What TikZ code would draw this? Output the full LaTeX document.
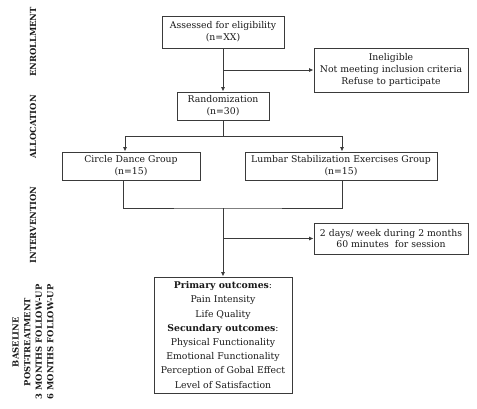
\documentclass[tikz,border=0pt]{standalone}
\usepackage{fontspec}
\setmainfont{DejaVu Serif}
\usetikzlibrary{arrows.meta,calc}
\definecolor{ln}{HTML}{3A3A3A}
\begin{document}
\begin{tikzpicture}[x=1pt,y=-1pt,
  box/.style={draw=ln,line width=0.9pt,inner sep=0pt,align=center,font=\fontsize{9.3}{11.8}\selectfont,text=black!90},
  conn/.style={draw=ln,line width=0.9pt},
  arr/.style={conn,-{Latex[length=4.5pt,width=4pt]}},
  phase/.style={rotate=90,font=\bfseries\fontsize{8.4}{11.6}\selectfont,align=center,text=black!90}]
\useasboundingbox (0,0) rectangle (477,408);
\node[box,minimum width=122pt,minimum height=32pt] (assess) at (223,32) {Assessed for eligibility\\(n=XX)};
\node[box,minimum width=154pt,minimum height=44pt] (inel) at (391,70) {Ineligible\\Not meeting inclusion criteria\\Refuse to participate};
\node[box,minimum width=92pt,minimum height=28pt] (rand) at (223,106) {Randomization\\(n=30)};
\node[box,minimum width=138pt,minimum height=28pt] (circ) at (131,166) {Circle Dance Group\\(n=15)};
\node[box,minimum width=192pt,minimum height=28pt] (lumb) at (341,166) {Lumbar Stabilization Exercises Group\\(n=15)};
\node[box,minimum width=154pt,minimum height=31pt] (dur) at (391,238.5) {2 days/ week during 2 months\\60 minutes\ \ for session};
\node[box,minimum width=138pt,minimum height=116pt,font=\fontsize{9.3}{14.2}\selectfont] (out) at (223,335) {\textbf{Primary outcomes}:\\Pain Intensity\\Life Quality\\\textbf{Secundary outcomes}:\\Physical Functionality\\Emotional Functionality\\Perception of Gobal Effect\\Level of Satisfaction};

\node[phase] (p1) at (33,42) {ENROLLMENT};
\node[phase] (p2) at (33,127) {ALLOCATION};
\node[phase] (p3) at (33,225) {INTERVENTION};
\node[phase] (p4) at (33,342) {BASELINE\\POST-TREATMENT\\3 MONTHS FOLLOW-UP\\6 MONTHS FOLLOW-UP};

\draw[arr] (assess.south) -- (rand.north);
\draw[arr] (assess.south |- inel.west) -- (inel.west);
\draw[conn] (rand.south) -- ++(0,16) coordinate (split);
\coordinate (ctop) at ([xshift=-6pt]circ.north);
\coordinate (ltop) at ([xshift=1pt]lumb.north);
\draw[arr] (split) -| (ctop);
\draw[arr] (split) -| (ltop);
\coordinate (cbot) at ([xshift=-8pt]circ.south);
\coordinate (lbot) at ([xshift=1pt]lumb.south);
\coordinate (merge) at (223,208);
\draw[conn] (cbot) |- (merge) -| (lbot);
\draw[arr] (merge) -- (out.north);
\draw[arr] (merge |- dur.west) -- (dur.west);
\end{tikzpicture}
\end{document}
